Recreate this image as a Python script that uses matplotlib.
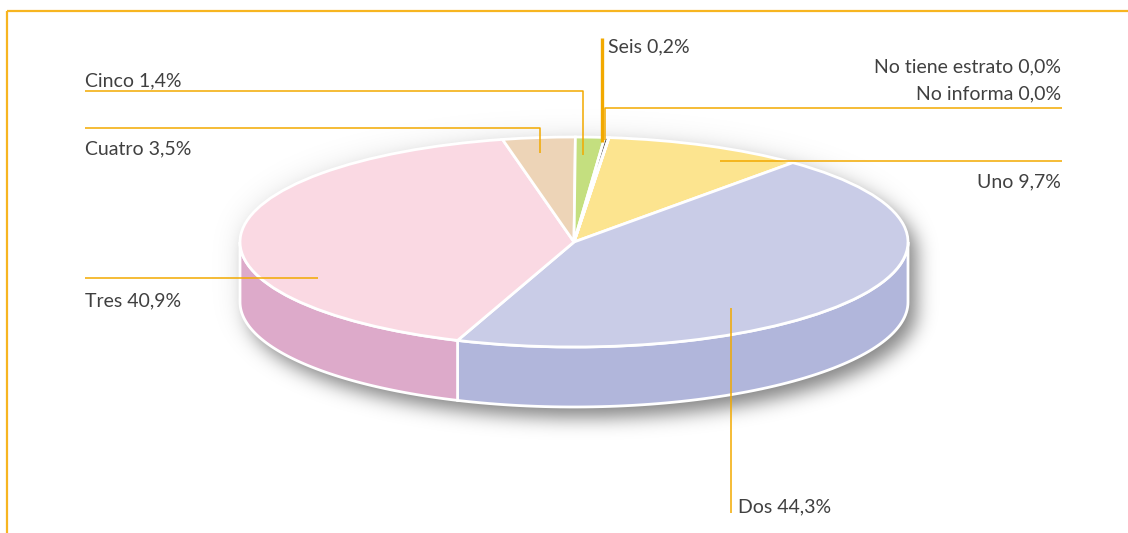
import numpy as np
import matplotlib.pyplot as plt
from matplotlib.patches import Polygon
from matplotlib.transforms import Affine2D

# data (clockwise from the top)
labels = ["Uno", "Dos", "Tres", "Cuatro", "Cinco", "Seis", "No tiene estrato", "No informa"]
shares = [9.7, 44.3, 40.9, 3.5, 1.4, 0.2, 0.0, 0.0]
pct_text = ["9,7%", "44,3%", "40,9%", "3,5%", "1,4%", "0,2%", "0,0%", "0,0%"]

top_colors  = ["#FCE48F", "#C9CCE7", "#FAD9E3", "#EDD4B7", "#C4DF7F", "#505050", "#8a8a8a", "#8a8a8a"]
side_colors = ["#EDD070", "#B1B6DB", "#DDAACA", "#D8BC9A", "#A8C860", "#404040", "#777777", "#777777"]

ORANGE = "#F2A900"
TXT = "#404040"
FONT = dict(family=["Lato", "DejaVu Sans"], fontweight="normal", fontsize=14, color=TXT)

# pie geometry in pixels
CX, CY, RX, RY, DEPTH = 574, 242, 334, 105, 60
START = 84
W, H = 1128, 533

fig = plt.figure(figsize=(W / 100, H / 100), dpi=100)
ax = fig.add_axes([0, 0, 1, 1])

pie_tr = Affine2D().scale(RX, -RY).translate(CX, CY) + ax.transData


# blurred drop shadow of the cylinder silhouette
def silhouette(dx, dy):
    yy, xx = np.mgrid[0:H, 0:W] + 0.5
    u = (xx - CX - dx) / RX
    h = RY * np.sqrt(np.clip(1 - u ** 2, 0, None))
    return ((np.abs(u) <= 1) & (yy >= CY + dy - h) & (yy <= CY + dy + DEPTH + h)).astype(float)


def blur(m, sigma):
    r = int(3 * sigma)
    k = np.exp(-0.5 * (np.arange(-r, r + 1) / sigma) ** 2)
    k /= k.sum()
    m = np.apply_along_axis(lambda v: np.convolve(v, k, mode="same"), 1, m)
    return np.apply_along_axis(lambda v: np.convolve(v, k, mode="same"), 0, m)


alpha = 0.42 * blur(silhouette(9, 11), 9) + 0.10 * blur(silhouette(0, 0), 16)
shadow = np.zeros((H, W, 4))
shadow[..., 3] = np.clip(alpha, 0, 1)
ax.imshow(shadow, extent=(0, W, H, 0), zorder=0, interpolation="bilinear")

# side walls (front half only)
d = DEPTH / RY
edges = START - 360 * np.concatenate([[0], np.cumsum(shares)]) / 100.0
for i in range(len(shares)):
    a, b = edges[i + 1], edges[i]
    lo, hi = max(a, -180), min(b, 0)
    if hi <= lo:
        continue
    t = np.radians(np.linspace(lo, hi, 80))
    top = np.column_stack([np.cos(t), np.sin(t)])
    bot = np.column_stack([np.cos(t[::-1]), np.sin(t[::-1]) - d])
    ax.add_patch(Polygon(np.vstack([top, bot]), closed=True, transform=pie_tr,
                         facecolor=side_colors[i], edgecolor="white", lw=2, zorder=2))

# top face
ax.pie(shares, colors=top_colors, startangle=START, counterclock=False, normalize=True,
       wedgeprops=dict(transform=pie_tr, edgecolor="white", linewidth=2, zorder=3))

ax.set_aspect("auto")
ax.set_xlim(0, W)
ax.set_ylim(H, 0)
ax.axis("off")

# frame
ax.plot([7, W], [11, 11], color="#F7B520", lw=1.6, solid_capstyle="butt")
ax.plot([7, 7], [11, H], color="#F7B520", lw=1.6, solid_capstyle="butt")


def lead(xs, ys, lw=1.1):
    ax.plot(xs, ys, color=ORANGE, lw=lw, zorder=5, solid_capstyle="butt")


# leader lines and labels
lead([85, 583, 583], [91, 91, 155])
ax.text(85, 86, f"{labels[4]} {pct_text[4]}", **FONT)

lead([85, 540, 540], [128, 128, 153])
ax.text(85, 154, f"{labels[3]} {pct_text[3]}", **FONT)

lead([601.5, 601.5], [38, 142], lw=2.4)
ax.text(608, 52, f"{labels[5]} {pct_text[5]}", **FONT)

lead([1062, 605, 605], [108, 108, 140])
ax.text(1061, 72, f"{labels[6]} {pct_text[6]}", ha="right", **FONT)
ax.text(1061, 99, f"{labels[7]} {pct_text[7]}", ha="right", **FONT)

lead([720, 1062], [161, 161])
ax.text(1061, 187, f"{labels[0]} {pct_text[0]}", ha="right", **FONT)

lead([85, 318], [278, 278])
ax.text(85, 306, f"{labels[2]} {pct_text[2]}", **FONT)

lead([731, 731], [308, 513])
ax.text(738, 512, f"{labels[1]} {pct_text[1]}", **FONT)

fig.savefig("out.png", dpi=100, facecolor="white")
